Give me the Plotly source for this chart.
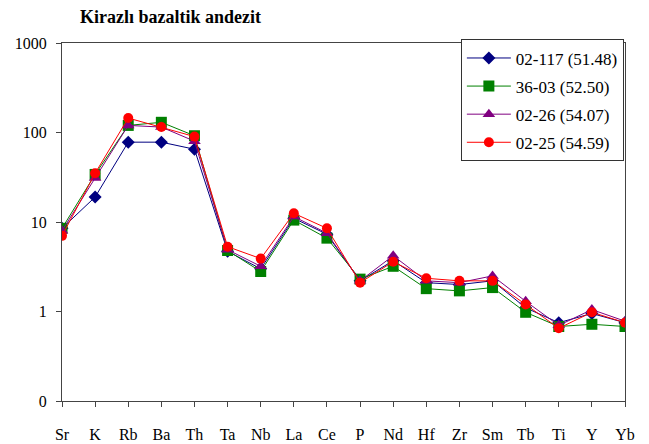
import plotly.graph_objects as go

# Spider diagram, Kirazli basaltic andesite
elements = ["Sr", "K", "Rb", "Ba", "Th", "Ta", "Nb", "La", "Ce", "P",
            "Nd", "Hf", "Zr", "Sm", "Tb", "Ti", "Y", "Yb"]

s_02_117 = [8.5, 19, 78, 78, 65, 4.7, 3.0, 11, 7.3, 2.2, 3.7, 2.1, 2.0, 2.2, 1.1, 0.75, 0.95, 0.75]
s_36_03 = [8.5, 34, 120, 130, 92, 4.8, 2.8, 10.5, 6.6, 2.3, 3.2, 1.8, 1.7, 1.85, 0.98, 0.68, 0.72, 0.68]
s_02_26 = [8.0, 31, 120, 115, 80, 4.9, 3.2, 11.5, 7.5, 2.2, 4.2, 2.2, 2.1, 2.5, 1.3, 0.70, 1.05, 0.78]
s_02_25 = [7.0, 35, 145, 115, 90, 5.3, 3.9, 12.5, 8.5, 2.1, 3.6, 2.35, 2.2, 2.2, 1.2, 0.65, 0.98, 0.75]

names = ["02-117 (51.48)", "36-03 (52.50)", "02-26 (54.07)", "02-25 (54.59)"]
series = [s_02_117, s_36_03, s_02_26, s_02_25]
colors = ["#000080", "#008000", "#800080", "#FF0000"]
symbols = ["diamond", "square", "triangle-up", "circle"]
sizes = [10, 11, 11, 10]

serif = "'Liberation Serif', 'Times New Roman', Times, serif"
x = list(range(len(elements)))

fig = go.Figure()
for name, vals, c, sym, sz in zip(names, series, colors, symbols, sizes):
    fig.add_trace(go.Scatter(
        x=x, y=vals, name=name, mode="lines+markers",
        line=dict(color=c, width=1),
        marker=dict(symbol=sym, size=sz, color=c),
        legendgroup=name,
    ))

fig.add_annotation(text="<b>Kirazlı bazaltik andezit</b>", xref="paper", yref="paper",
                   x=0.028, y=1.04, xanchor="left", yanchor="bottom", showarrow=False,
                   font=dict(size=18, color="black", family=serif))

fig.update_layout(
    width=649, height=444,
    margin=dict(l=62, r=24, t=43, b=43),
    paper_bgcolor="white", plot_bgcolor="white",
    font=dict(family=serif, size=16, color="black"),
    showlegend=True,
    legend=dict(x=0.998, y=1.01, xanchor="right", yanchor="top",
                bordercolor="#333", borderwidth=1, bgcolor="white",
                tracegroupgap=3, itemwidth=44, font=dict(size=17, family=serif)),
    xaxis=dict(range=[0, 17], tickvals=x, ticktext=elements, showgrid=False,
               zeroline=False, showline=True, linecolor="#444", linewidth=1, mirror=True,
               ticks="outside", ticklen=5, tickcolor="#444", ticklabelstandoff=14,
               automargin=False),
    yaxis=dict(type="log", range=[-1, 3], tickvals=[0.1, 1, 10, 100, 1000],
               ticktext=["0", "1", "10", "100", "1000"], showgrid=False,
               showline=True, linecolor="#444", linewidth=1, mirror=True,
               ticks="outside", ticklen=5, tickcolor="#444", ticklabelstandoff=6,
               automargin=False),
)

fig.write_html("out.html", config={"displayModeBar": False},
               post_script="document.body.style.margin='0';")
